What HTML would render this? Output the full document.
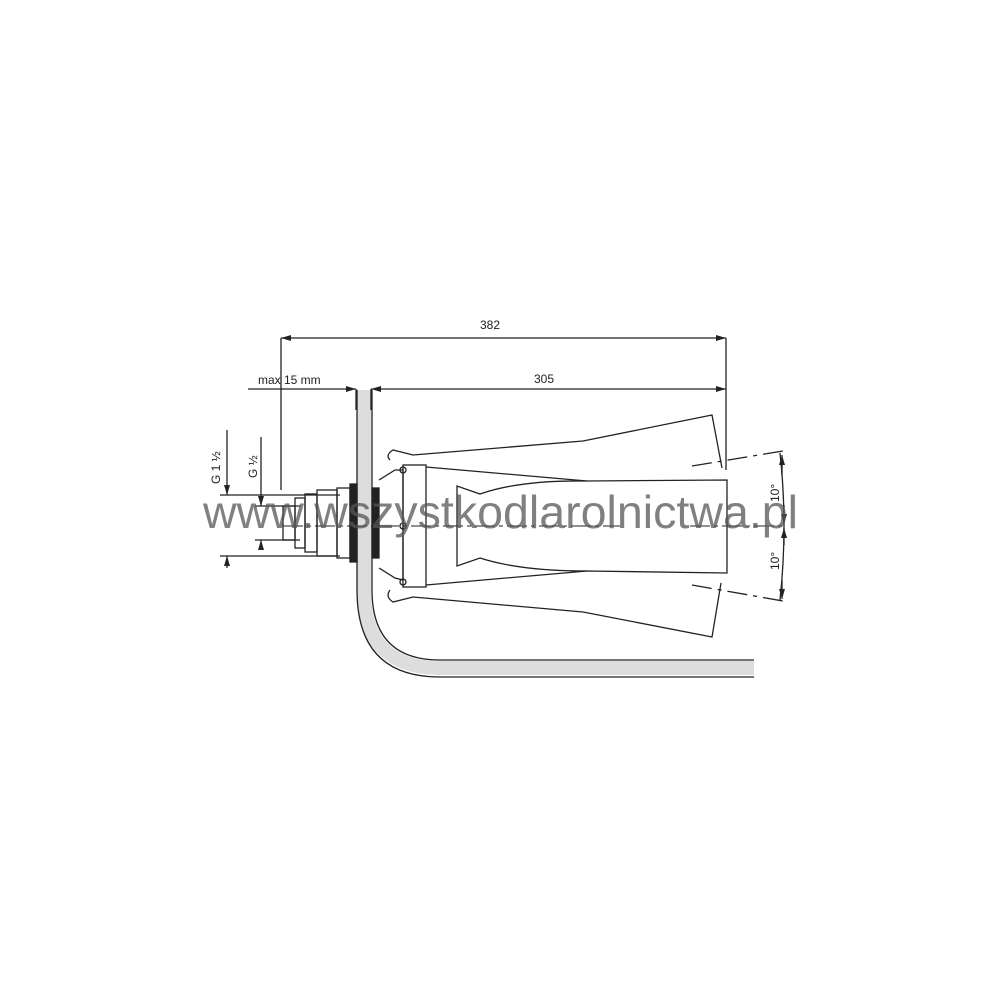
<!DOCTYPE html>
<html><head><meta charset="utf-8"><style>html,body{margin:0;padding:0;background:#fff}svg{display:block}</style></head><body>
<svg width="1000" height="1000" viewBox="0 0 1000 1000" xmlns="http://www.w3.org/2000/svg" font-family="Liberation Sans, sans-serif">
<defs>
<marker id="a" viewBox="0 0 10 6" refX="10" refY="3" markerWidth="10" markerHeight="6" orient="auto-start-reverse" markerUnits="userSpaceOnUse"><path d="M0,0L10,3L0,6z" fill="#222"/></marker>
</defs>
<g stroke="#222" fill="none" stroke-width="1.3">
<!-- wall -->
<path d="M364,390 V590 Q364,668 440,668 H754" stroke="#ddd" stroke-width="14"/>
<path d="M357,390 V590 Q357,677 440,677 H754"/>
<path d="M372,390 V590 Q372,660 440,660 H754"/>
<!-- dims -->
<line x1="281" y1="338" x2="726" y2="338" marker-start="url(#a)" marker-end="url(#a)"/>
<line x1="281" y1="338" x2="281" y2="490"/>
<line x1="726" y1="338" x2="726" y2="470"/>
<line x1="248" y1="389" x2="356" y2="389" marker-end="url(#a)"/>
<line x1="371" y1="389" x2="726" y2="389" marker-start="url(#a)" marker-end="url(#a)"/>
<line x1="356" y1="389" x2="356" y2="410"/><line x1="371" y1="389" x2="371" y2="410"/>
<line x1="220" y1="495" x2="340" y2="495"/><line x1="220" y1="556" x2="340" y2="556"/>
<line x1="227" y1="430" x2="227" y2="495" marker-end="url(#a)"/>
<line x1="227" y1="568" x2="227" y2="556" marker-end="url(#a)"/>
<line x1="255" y1="506" x2="300" y2="506"/><line x1="255" y1="540" x2="300" y2="540"/>
<line x1="261" y1="437" x2="261" y2="506" marker-end="url(#a)"/>
<line x1="261" y1="550" x2="261" y2="540" marker-end="url(#a)"/>
<!-- fitting -->
<rect x="283" y="506" width="12" height="34"/>
<rect x="295" y="498" width="10" height="50"/>
<rect x="305" y="494" width="12" height="58"/>
<rect x="317" y="490" width="20" height="66"/>
<rect x="337" y="488" width="13" height="70"/>
<rect x="350" y="484" width="7" height="78" fill="#222"/>
<rect x="372" y="488" width="7" height="70" fill="#222"/>
<!-- nozzle -->
<path d="M379,480 L395,470 L403,470 V580 L395,578 L379,568"/>
<rect x="403" y="465" width="23" height="122"/>
<circle cx="403" cy="470" r="3"/><circle cx="403" cy="582" r="3"/><circle cx="403" cy="526" r="3"/>
<path d="M390,460 Q385,455 393,450 L413,455 L583,441 L712,415 L722,468"/>
<path d="M390,590 Q385,597 393,602 L413,597 L583,612 L712,637 L721,583"/>
<path d="M426,467 L587,481 L727,480 V573 L587,571 L426,585"/>
<path d="M587,481 Q520,480 480,494 L457,486 V566 L480,558 Q520,571 587,571"/>
<line x1="283" y1="526" x2="620" y2="526" stroke-dasharray="20,4,4,4" stroke-width="1"/>
<line x1="690" y1="526" x2="785" y2="526" stroke-dasharray="20,4,4,4" stroke-width="1"/>
<!-- angles -->
<line x1="692" y1="466" x2="783" y2="451" stroke-dasharray="20,6,4,6"/>
<line x1="692" y1="585" x2="783" y2="601" stroke-dasharray="20,6,4,6"/>
<path d="M780,453 Q788,526 780,600"/>
<line x1="782" y1="475" x2="782" y2="455" marker-end="url(#a)"/>
<line x1="784" y1="505" x2="784" y2="524" marker-end="url(#a)"/>
<line x1="784" y1="545" x2="784" y2="528" marker-end="url(#a)"/>
<line x1="782" y1="580" x2="782" y2="599" marker-end="url(#a)"/>
</g>
<g fill="#222" font-size="12">
<text x="490" y="329" text-anchor="middle">382</text>
<text x="544" y="383" text-anchor="middle">305</text>
<text x="258" y="384">max 15 mm</text>
<text transform="translate(220,484) rotate(-90)">G 1 ½</text>
<text transform="translate(257,478) rotate(-90)">G ½</text>
<text transform="translate(779,502) rotate(-90)">10°</text>
<text transform="translate(779,570) rotate(-90)">10°</text>
</g>
<text x="203" y="528" font-size="46" fill="#555" fill-opacity="0.75" textLength="595" lengthAdjust="spacingAndGlyphs">www.wszystkodlarolnictwa.pl</text>
</svg>
</body></html>
